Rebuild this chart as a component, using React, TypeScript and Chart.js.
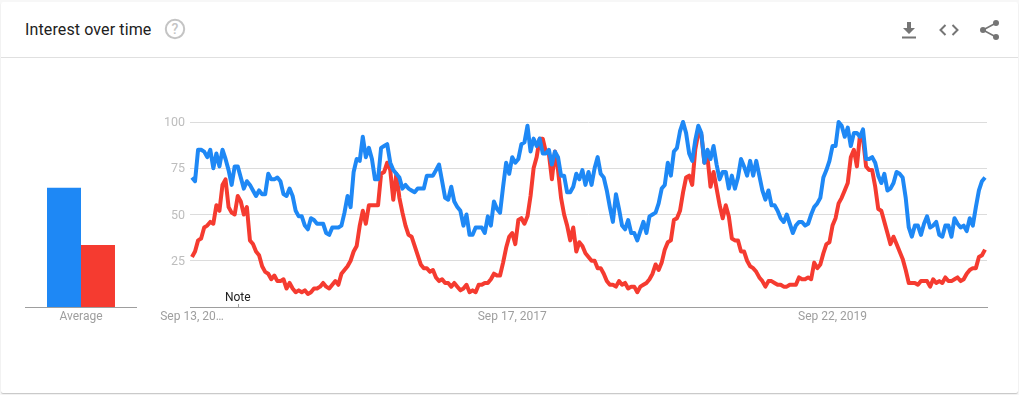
import React, { useEffect, useRef } from "react";
import { Chart, registerables } from "chart.js";

Chart.register(...registerables);

const titleText = "Interest over time";
const seriesColors = ["#1e88f5", "#f53b30"];
const seriesNames = ["Term 1", "Term 2"];
const averages = [64.5, 33.5];
const averageLabel = "Average";
const yTicks = [25, 50, 75, 100];
const xTickWeeks = [0, 105, 210];
const xTickLabels = ["Sep 13, 20…", "Sep 17, 2017", "Sep 22, 2019"];
const noteWeek = 15;
const noteLabel = "Note";

const blue = [
  70, 68, 85, 85, 84, 81, 85, 75, 83, 76, 85, 80, 74, 66, 76, 76, 70, 64, 68, 66,
  63, 60, 63, 61, 61, 72, 69, 69, 70, 68, 61, 60, 64, 60, 52, 49, 49, 44, 42, 48,
  47, 45, 45, 45, 40, 39, 43, 43, 43, 44, 51, 60, 54, 73, 80, 79, 92, 81, 86, 80,
  69, 69, 86, 87, 88, 78, 74, 72, 70, 64, 66, 64, 63, 62, 64, 64, 64, 71, 71, 71,
  74, 77, 68, 59, 58, 65, 57, 54, 52, 44, 50, 39, 39, 43, 43, 43, 40, 49, 44, 57,
  53, 51, 65, 78, 72, 81, 78, 80, 88, 89, 98, 84, 91, 87, 91, 83, 83, 85, 77, 84,
  81, 71, 71, 62, 62, 65, 72, 69, 74, 66, 73, 66, 75, 81, 72, 70, 63, 54, 46, 61,
  53, 44, 42, 47, 40, 40, 36, 41, 46, 40, 49, 50, 51, 56, 64, 66, 78, 71, 84, 86,
  95, 100, 94, 83, 79, 90, 98, 94, 78, 85, 80, 87, 77, 69, 73, 73, 64, 71, 64, 70,
  80, 76, 71, 79, 71, 79, 71, 63, 58, 63, 55, 55, 52, 48, 46, 50, 45, 40, 44, 46,
  46, 44, 45, 50, 54, 56, 59, 70, 74, 79, 87, 87, 100, 98, 92, 97, 87, 94, 94, 92,
  96, 80, 80, 81, 78, 71, 67, 72, 63, 64, 67, 73, 72, 70, 59, 43, 38, 44, 44, 39,
  45, 49, 43, 44, 46, 39, 38, 44, 44, 38, 48, 45, 43, 44, 41, 48, 44, 54, 63, 68,
  70,
];

const red = [
  27, 30, 36, 37, 43, 44, 46, 45, 55, 52, 66, 69, 54, 51, 50, 60, 57, 50, 54, 36,
  34, 30, 28, 22, 19, 18, 15, 17, 14, 14, 15, 10, 13, 10, 8, 9, 8, 9, 7, 8,
  10, 10, 11, 13, 11, 10, 12, 14, 12, 18, 20, 22, 25, 30, 33, 44, 52, 45, 55, 55,
  55, 55, 72, 73, 78, 74, 58, 72, 59, 51, 44, 39, 38, 33, 28, 23, 21, 21, 19, 20,
  16, 14, 15, 13, 13, 11, 13, 11, 9, 10, 12, 8, 9, 8, 12, 12, 13, 13, 15, 18,
  17, 17, 24, 32, 38, 40, 34, 47, 48, 45, 49, 60, 75, 81, 91, 91, 84, 83, 69, 84,
  74, 59, 50, 44, 36, 43, 30, 35, 33, 29, 27, 25, 25, 21, 21, 18, 14, 12, 12, 11,
  14, 12, 13, 10, 11, 11, 8, 11, 12, 13, 15, 18, 23, 20, 24, 31, 35, 36, 47, 48,
  52, 62, 70, 71, 66, 85, 94, 93, 78, 81, 65, 73, 64, 55, 48, 55, 49, 37, 36, 36,
  30, 30, 25, 22, 21, 19, 16, 14, 11, 14, 14, 13, 12, 12, 11, 11, 12, 12, 12, 16,
  15, 15, 16, 15, 24, 21, 23, 29, 34, 35, 44, 48, 56, 59, 63, 67, 81, 85, 76, 93,
  91, 76, 74, 74, 65, 53, 52, 46, 40, 34, 38, 34, 30, 26, 20, 13, 13, 13, 12, 14,
  14, 14, 11, 15, 13, 14, 13, 16, 14, 14, 15, 16, 14, 15, 18, 20, 21, 21, 27, 28,
  31,
];

const weeks = blue.map((_, i) => i);

export default function App() {
  const barRef = useRef<HTMLCanvasElement | null>(null);
  const lineRef = useRef<HTMLCanvasElement | null>(null);

  useEffect(() => {
    const font = "Roboto";
    const bar = new Chart(barRef.current!, {
      type: "bar",
      data: {
        labels: [averageLabel],
        datasets: averages.map((v, i) => ({
          label: seriesNames[i],
          data: [v],
          backgroundColor: seriesColors[i],
          borderWidth: 0,
          barPercentage: 1,
          categoryPercentage: 0.607,
        })),
      },
      options: {
        animation: false,
        responsive: false,
        layout: { padding: { left: 25, right: 0, top: 122, bottom: 0 } },
        plugins: { legend: { display: false }, tooltip: { enabled: false } },
        scales: {
          y: { display: false, min: 0, max: 100 },
          x: {
            grid: { display: false, drawTicks: false },
            border: { color: "#9e9e9e", width: 1 },
            ticks: { color: "#9e9e9e", font: { family: font, size: 12 }, padding: 3, maxRotation: 0 },
            afterFit: (s: any) => { s.height = 88; },
          },
        },
      },
    });

    const notePlugin = {
      id: "note",
      afterDatasetsDraw(c: any) {
        const ctx = c.ctx;
        const x = c.scales.x.getPixelForValue(noteWeek);
        const y = c.scales.y.getPixelForValue(0);
        ctx.save();
        ctx.strokeStyle = "#9e9e9e";
        ctx.lineWidth = 1;
        ctx.beginPath();
        ctx.moveTo(Math.round(x) + 0.5, y - 3);
        ctx.lineTo(Math.round(x) + 0.5, y);
        ctx.stroke();
        ctx.fillStyle = "#212121";
        ctx.font = `12px ${font}`;
        ctx.textAlign = "center";
        ctx.textBaseline = "alphabetic";
        ctx.fillText(noteLabel, x, y - 6);
        ctx.restore();
      },
    };

    const line = new Chart(lineRef.current!, {
      type: "line",
      data: {
        labels: weeks,
        datasets: [blue, red].map((d, i) => ({
          label: seriesNames[i],
          data: d.map((v, k) => ({ x: weeks[k], y: v })),
          borderColor: seriesColors[i],
          borderWidth: 4,
          pointRadius: 0,
          tension: 0,
          borderJoinStyle: "round" as const,
          clip: false as any,
        })),
      },
      options: {
        animation: false,
        responsive: false,
        layout: { padding: { left: 0, right: 32, top: 122, bottom: 0 } },
        plugins: { legend: { display: false }, tooltip: { enabled: false } },
        scales: {
          y: {
            min: 0,
            max: 100,
            afterBuildTicks: (s: any) => { s.ticks = [0, ...yTicks].map((value) => ({ value })); },
            afterFit: (s: any) => { s.width = 190; },
            grid: {
              drawTicks: false,
              color: (c: any) => (c.tick.value === 0 ? "rgba(0,0,0,0)" : "#dcdcdc"),
            },
            border: { display: false },
            ticks: {
              color: "#bdbdbd",
              font: { family: font, size: 12.5 },
              padding: 5,
              labelOffset: 1,
              callback: (v: any) => (v === 0 ? "" : String(v)),
            },
          },
          x: {
            type: "linear",
            min: -0.65,
            max: 260.65,
            afterBuildTicks: (s: any) => { s.ticks = xTickWeeks.map((value) => ({ value })); },
            afterFit: (s: any) => { s.height = 88; },
            grid: { display: false, drawTicks: false },
            border: { color: "#9e9e9e", width: 1 },
            ticks: {
              color: "#9e9e9e",
              font: { family: font, size: 12 },
              padding: 3,
              maxRotation: 0,
              autoSkip: false,
              callback: (v: any) => xTickLabels[xTickWeeks.indexOf(Number(v))] ?? "",
            },
          },
        },
      },
      plugins: [notePlugin],
    });

    return () => {
      bar.destroy();
      line.destroy();
    };
  }, []);

  const icon = "#757575";
  return (
    <div
      style={{
        position: "fixed",
        left: 0,
        top: 0,
        width: 1019,
        height: 395,
        background: "#f7f7f7",
        overflow: "hidden",
      }}
    >
      <div
        style={{
          position: "absolute",
          left: 1,
          top: 2,
          width: 1017,
          height: 391,
          background: "#fff",
          borderRadius: 2,
          boxShadow: "0 1px 1px rgba(0,0,0,0.2)",
        }}
      />
      <div
        style={{
          position: "absolute",
          left: 25,
          top: 20,
          fontFamily: "Roboto",
          fontSize: 16,
          letterSpacing: "0.12px",
          lineHeight: "20px",
          color: "#212121",
          whiteSpace: "nowrap",
        }}
      >
        {titleText}
      </div>
      <svg style={{ position: "absolute", left: 164, top: 18 }} width={22} height={22} viewBox="0 0 22 22">
        <circle cx={11} cy={11} r={9.2} fill="none" stroke="#c4c4c4" strokeWidth={2} />
        <text x={11} y={16} textAnchor="middle" fontFamily="Roboto" fontSize={14} fontWeight={500} fill="#c4c4c4">?</text>
      </svg>
      <div style={{ position: "absolute", left: 1, top: 57, width: 1017, height: 1, background: "#e0e0e0" }} />
      <svg style={{ position: "absolute", left: 897, top: 18 }} width={24} height={24} viewBox="0 0 24 24">
        <path d="M18 10h-4V4h-4v6H6l6 6 6-6zM5 18.5v2h14v-2H5z" fill={icon} />
      </svg>
      <svg style={{ position: "absolute", left: 937, top: 18 }} width={24} height={24} viewBox="0 0 24 24">
        <path d="M8.5 7l-5 5 5 5M15.5 7l5 5-5 5" fill="none" stroke={icon} strokeWidth={2} />
      </svg>
      <svg style={{ position: "absolute", left: 977, top: 18 }} width={24} height={24} viewBox="0 0 24 24">
        <path d="M19 5L6 12l13 7" fill="none" stroke={icon} strokeWidth={1.6} />
        <circle cx={19} cy={5} r={3} fill={icon} />
        <circle cx={6} cy={12} r={3} fill={icon} />
        <circle cx={19} cy={19} r={3} fill={icon} />
      </svg>
      <canvas ref={barRef} width={137} height={395} style={{ position: "absolute", left: 0, top: 0 }} />
      <canvas ref={lineRef} width={1019} height={395} style={{ position: "absolute", left: 0, top: 0 }} />
    </div>
  );
}
